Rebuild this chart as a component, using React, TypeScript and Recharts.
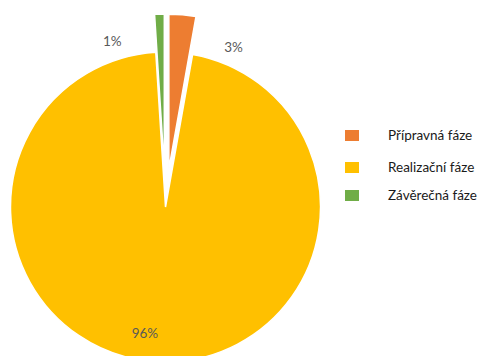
import { PieChart, Pie, Cell, Sector, Legend } from 'recharts';

const phases = ['Přípravná fáze', 'Realizační fáze', 'Závěrečná fáze'];
const shares = [2.8, 96.2, 1.0];
const colors = ['#ED7D31', '#FFC000', '#70AD47'];

const data = phases.map((name, i) => ({ name, value: shares[i] }));

const RAD = Math.PI / 180;
const FONT = 'Lato, "Open Sans", sans-serif';

// the two small slices are pulled out of the pie
const explode = [38, 0, 38];
// label placement: radius from pie centre and angle nudge off the slice middle
const labelRadius = [174, 128, 174];
const labelNudge = [-18, -6, 16];

function ExplodedSector(props: any) {
  const { cx, cy, midAngle, index } = props;
  const d = explode[index ?? 0] ?? 0;
  return (
    <Sector
      {...props}
      cx={cx + d * Math.cos(-midAngle * RAD)}
      cy={cy + d * Math.sin(-midAngle * RAD)}
      stroke="#fff"
      strokeWidth={1.5}
    />
  );
}

function renderLabel(props: any) {
  const { cx, cy, midAngle, percent, index } = props;
  const a = (midAngle + labelNudge[index]) * RAD;
  const r = labelRadius[index];
  const x = cx + r * Math.cos(-a);
  const y = cy + r * Math.sin(-a);
  return (
    <text x={x} y={y} fill="#595959" fontSize={13.5} fontFamily={FONT}
      textAnchor="middle" dominantBaseline="central">
      {`${Math.round(percent * 100)}%`}
    </text>
  );
}

function PhaseLegend() {
  const tops = [0, 32, 60];
  return (
    <div style={{ position: 'relative', width: 132, height: 80, fontFamily: FONT }}>
      {phases.map((p, i) => (
        <div key={p} style={{ position: 'absolute', left: 0, top: tops[i], height: 12, display: 'flex', alignItems: 'center' }}>
          <span style={{ display: 'inline-block', width: 14, height: 11, background: colors[i] }} />
          <span style={{ marginLeft: 29, fontSize: 13.5, color: '#1a1a1a', whiteSpace: 'nowrap' }}>{p}</span>
        </div>
      ))}
    </div>
  );
}

export default function App() {
  return (
    <div style={{ position: 'absolute', left: 0, top: 0, background: '#fff' }}>
      <PieChart width={477} height={356} margin={{ top: 0, right: 0, bottom: 0, left: 0 }}>
        <Pie
          data={data}
          dataKey="value"
          nameKey="name"
          cx={165.5}
          cy={207}
          outerRadius={155}
          startAngle={90}
          endAngle={-270}
          isAnimationActive={false}
          labelLine={false}
          label={renderLabel}
          shape={ExplodedSector}
          inactiveShape={ExplodedSector}
          activeShape={ExplodedSector}
        >
          {data.map((d, i) => <Cell key={d.name} fill={colors[i]} />)}
        </Pie>
        <Legend
          content={() => <PhaseLegend />}
          wrapperStyle={{ position: 'absolute', left: 345, top: 129, width: 132 }}
        />
      </PieChart>
    </div>
  );
}
